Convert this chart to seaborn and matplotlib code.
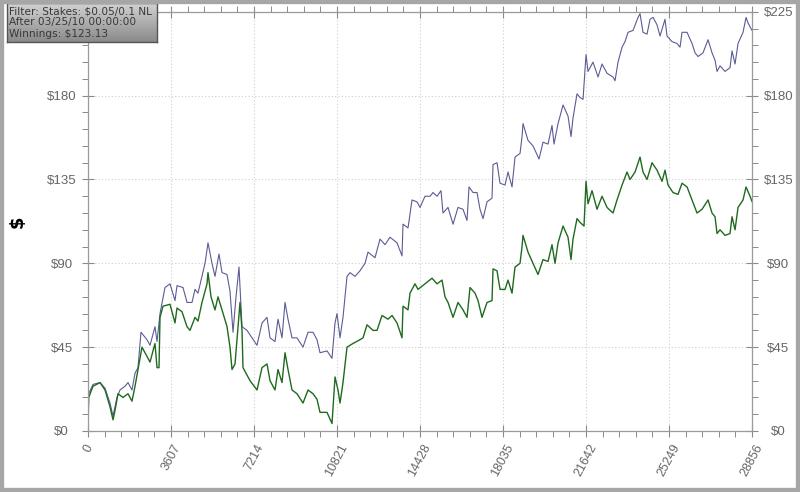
import numpy as np
import pandas as pd
import matplotlib
matplotlib.use("Agg")
import matplotlib.pyplot as plt
import seaborn as sns
from matplotlib.ticker import FixedLocator, MultipleLocator
from matplotlib.patches import Rectangle

# ---------------- data (hands, dollars) ----------------
green_hands = [0, 30, 217, 522, 739, 956, 1087, 1173, 1304, 1521, 1738, 1912, 2043, 2173, 2347,
               2564, 2695, 2912, 2999, 3086, 3129, 3260, 3564, 3781, 3868, 4085, 4303, 4433, 4650,
               4781, 4954, 5172, 5215, 5346, 5519, 5650, 5824, 6041, 6171, 6258, 6389, 6606, 6693,
               6736, 7041, 7345, 7562, 7779, 7910, 8127, 8257, 8431, 8562, 8692, 8866, 9083, 9344,
               9561, 9779, 9952, 10083, 10387, 10604, 10735, 10865, 10952, 11082, 11256, 11517,
               11821, 11952, 12125, 12386, 12560, 12777, 13038, 13212, 13429, 13646, 13690, 13907,
               13994, 14211, 14342, 14646, 14950, 15168, 15385, 15515, 15646, 15863, 16080, 16298,
               16471, 16602, 16819, 16949, 17123, 17341, 17558, 17601, 17775, 17906, 18123, 18253,
               18427, 18557, 18775, 18862, 18905, 19122, 19340, 19557, 19774, 19992, 20165, 20296,
               20427, 20644, 20861, 20991, 21078, 21252, 21382, 21556, 21643, 21730, 21904, 22121,
               22338, 22556, 22817, 22990, 23208, 23425, 23555, 23773, 23990, 24120, 24294, 24511,
               24729, 24946, 25076, 25207, 25424, 25641, 25815, 26033, 26250, 26467, 26684, 26945,
               27119, 27249, 27336, 27467, 27684, 27901, 27988, 28119, 28249, 28466, 28597, 28771,
               28856]
green_dollars = [2, 18, 24, 26, 22, 13, 6, 11, 20, 18, 20, 16, 24, 33, 45,
                 40, 37, 47, 34, 34, 61, 67, 68, 58, 66, 64, 56, 54, 61,
                 59, 69, 79, 85, 72, 65, 72, 65, 56, 45, 33, 36, 69, 54,
                 34, 27, 22, 34, 36, 27, 22, 33, 26, 42, 33, 22, 20, 15,
                 22, 20, 17, 10, 10, 4, 29, 22, 15, 26, 45, 47,
                 49, 50, 57, 54, 54, 62, 60, 62, 58, 50, 67, 65,
                 74, 79, 76, 79, 82, 79, 81, 72, 69, 61, 69, 65,
                 61, 77, 74, 70, 61, 69, 70, 87, 86, 76, 76, 81,
                 74, 88, 90, 99, 105, 96, 90, 84, 92, 91, 100, 90,
                 101, 110, 104, 92, 103, 114, 112, 110, 134, 122, 129, 119,
                 126, 120, 117, 124, 132, 139, 135, 139, 147, 139, 135, 144,
                 140, 134, 140, 132, 128, 127, 133, 131, 124, 117, 119, 124,
                 117, 115, 106, 108, 105, 106, 115, 108, 120, 124, 131, 126,
                 123.13]

blue_hands = [0, 30, 217, 522, 739, 956, 1087, 1260, 1391, 1608, 1738, 1912, 2043, 2173, 2303,
              2564, 2695, 2912, 2999, 3129, 3346, 3564, 3781, 3868, 4129, 4303, 4520, 4650, 4781,
              4954, 5085, 5215, 5389, 5519, 5693, 5824, 6041, 6171, 6302, 6432, 6562, 6693, 6910,
              7127, 7345, 7562, 7779, 7910, 8127, 8257, 8431, 8562, 8692, 8866, 9083, 9344, 9561,
              9779, 9952, 10083, 10387, 10604, 10735, 10822, 10952, 11082, 11256, 11387, 11604,
              11821, 12038, 12169, 12473, 12690, 12908, 13125, 13429, 13646, 13690, 13907, 14081,
              14298, 14429, 14646, 14863, 14994, 15168, 15341, 15428, 15646, 15863, 16080, 16298,
              16471, 16558, 16732, 16906, 17036, 17167, 17341, 17558, 17601, 17775, 17906, 18123,
              18253, 18427, 18557, 18775, 18862, 18905, 19122, 19340, 19600, 19774, 19992, 20165,
              20252, 20427, 20644, 20861, 20991, 21078, 21252, 21382, 21513, 21643, 21730, 21947,
              22165, 22338, 22556, 22817, 22903, 23034, 23208, 23338, 23468, 23686, 23903, 23990,
              24120, 24294, 24425, 24555, 24729, 24859, 25076, 25163, 25381, 25598, 25728, 25815,
              26033, 26250, 26380, 26511, 26728, 26945, 27119, 27249, 27336, 27467, 27684, 27901,
              27988, 28119, 28249, 28466, 28597, 28684, 28856]
blue_dollars = [2, 20, 25, 26, 23, 15, 8, 18, 22, 24, 26, 22, 31, 34, 53,
                49, 46, 56, 48, 63, 77, 79, 70, 78, 77, 69, 69, 76, 74,
                83, 90, 101, 90, 83, 95, 85, 84, 75, 53, 72, 88, 56, 54,
                50, 46, 58, 61, 50, 48, 60, 50, 69, 60, 50, 50, 45, 53,
                53, 49, 42, 43, 39, 58, 63, 50, 61, 83, 85, 83,
                86, 90, 96, 93, 103, 100, 104, 101, 94, 111, 109, 124,
                123, 120, 126, 126, 128, 126, 129, 117, 120, 111, 120, 119,
                113, 131, 128, 128, 119, 114, 123, 125, 143, 144, 133, 132,
                139, 131, 147, 149, 158, 165, 156, 153, 146, 155, 154, 164,
                154, 165, 175, 169, 158, 168, 181, 179, 178, 202, 193, 198,
                190, 197, 192, 190, 188, 198, 206, 209, 214, 215, 222, 224,
                214, 213, 221, 222, 218, 212, 221, 212, 209, 208, 206, 214,
                214, 208, 203, 201, 203, 210, 203, 199, 193, 196, 193, 195,
                204, 197, 208, 214, 222, 219, 215]

x_ticks = [0, 3607, 7214, 10821, 14428, 18035, 21642, 25249, 28856]
y_ticks = [0, 45, 90, 135, 180, 225]
y_labels = ["$0", "$45", "$90", "$135", "$180", "$225"]
info_lines = ["Filter: Stakes: $0.05/0.1 NL", "After 03/25/10 00:00:00", "Winnings: $123.13"]

df_blue = pd.DataFrame({"hands": blue_hands, "dollars": blue_dollars})
df_green = pd.DataFrame({"hands": green_hands, "dollars": green_dollars})

# ---------------- figure ----------------
sns.set_style("white")
plt.rcParams["font.family"] = ["DejaVu Sans"]

fig = plt.figure(figsize=(8.0, 4.92), dpi=100)
fig.patch.set_facecolor("white")
ax = fig.add_axes([0.11, 0.124, 0.83, 0.852])

sns.lineplot(data=df_blue, x="hands", y="dollars", ax=ax, color="#5b5b95",
             linewidth=0.8, estimator=None, sort=False)
sns.lineplot(data=df_green, x="hands", y="dollars", ax=ax, color="#1f6a1f",
             linewidth=1.0, estimator=None, sort=False)

ax.set_xlim(0, 28856)
ax.set_ylim(0, 225)
ax.xaxis.set_major_locator(FixedLocator(x_ticks))
ax.xaxis.set_minor_locator(FixedLocator(list(np.arange(0, 28857, 3607 / 5.0))))
ax.set_xticklabels([str(t) for t in x_ticks], rotation=62, ha="center", va="top",
                   color="#666666", fontsize=9, family="Liberation Sans")
ax.yaxis.set_major_locator(FixedLocator(y_ticks))
ax.yaxis.set_minor_locator(MultipleLocator(9))
ax.set_yticklabels(y_labels, color="#666666", fontsize=9.5, family="Liberation Sans")

ax.tick_params(which="both", left=True, right=True, bottom=True, top=True,
               labelright=True, labelleft=True, color="#8a8a8a")
ax.tick_params(which="major", direction="inout", length=8, width=0.8)
ax.tick_params(which="minor", direction="out", length=4, width=0.7)
ax.tick_params(axis="x", which="major", pad=4)
ax.tick_params(axis="y", which="major", pad=15)
major_ticks = ax.yaxis.get_major_ticks()
for t in major_ticks:
    t.label1.set_horizontalalignment("center")
    t.label2.set_horizontalalignment("center")
    t.label2.set_family("Liberation Sans")
    t.label2.set_fontsize(9.5)
    t.label2.set_color("#666666")
# the top-left label sits under the info box in the reference
major_ticks[-1].label1.set_visible(False)

ax.grid(True, which="major", linestyle=(0, (1, 2)), color="#cfcfcf", linewidth=0.8)
for s in ax.spines.values():
    s.set_color("#9a9a9a")
    s.set_linewidth(0.9)

ax.set_xlabel("")
ax.set_ylabel("$", fontsize=13, fontweight="bold", color="black")
ax.yaxis.set_label_coords(-0.092, 0.5)

# info box with gradient background
bax = fig.add_axes([7 / 800, 1 - 42 / 492, 150 / 800, 39 / 492])
grad = np.linspace(0, 1, 100).reshape(-1, 1)
bax.imshow(grad, aspect="auto", cmap=matplotlib.colors.LinearSegmentedColormap.from_list(
    "g", ["#d2d2d2", "#8a8a8a"]), extent=[0, 1, 0, 1], origin="upper")
bax.set_xlim(0, 1)
bax.set_ylim(0, 1)
bax.set_xticks([])
bax.set_yticks([])
for s in bax.spines.values():
    s.set_color("#555555")
    s.set_linewidth(1.0)
bax.text(0.015, 0.5, "\n".join(info_lines), fontsize=7.6, color="#383838",
         va="center", ha="left", linespacing=1.15, transform=bax.transAxes)

# grey outer frame
fig.patches.append(Rectangle((0, 0), 1, 1, transform=fig.transFigure, fill=False,
                             edgecolor="#a6a6a6", linewidth=6, zorder=10))

fig.savefig("out.png", dpi=100)
